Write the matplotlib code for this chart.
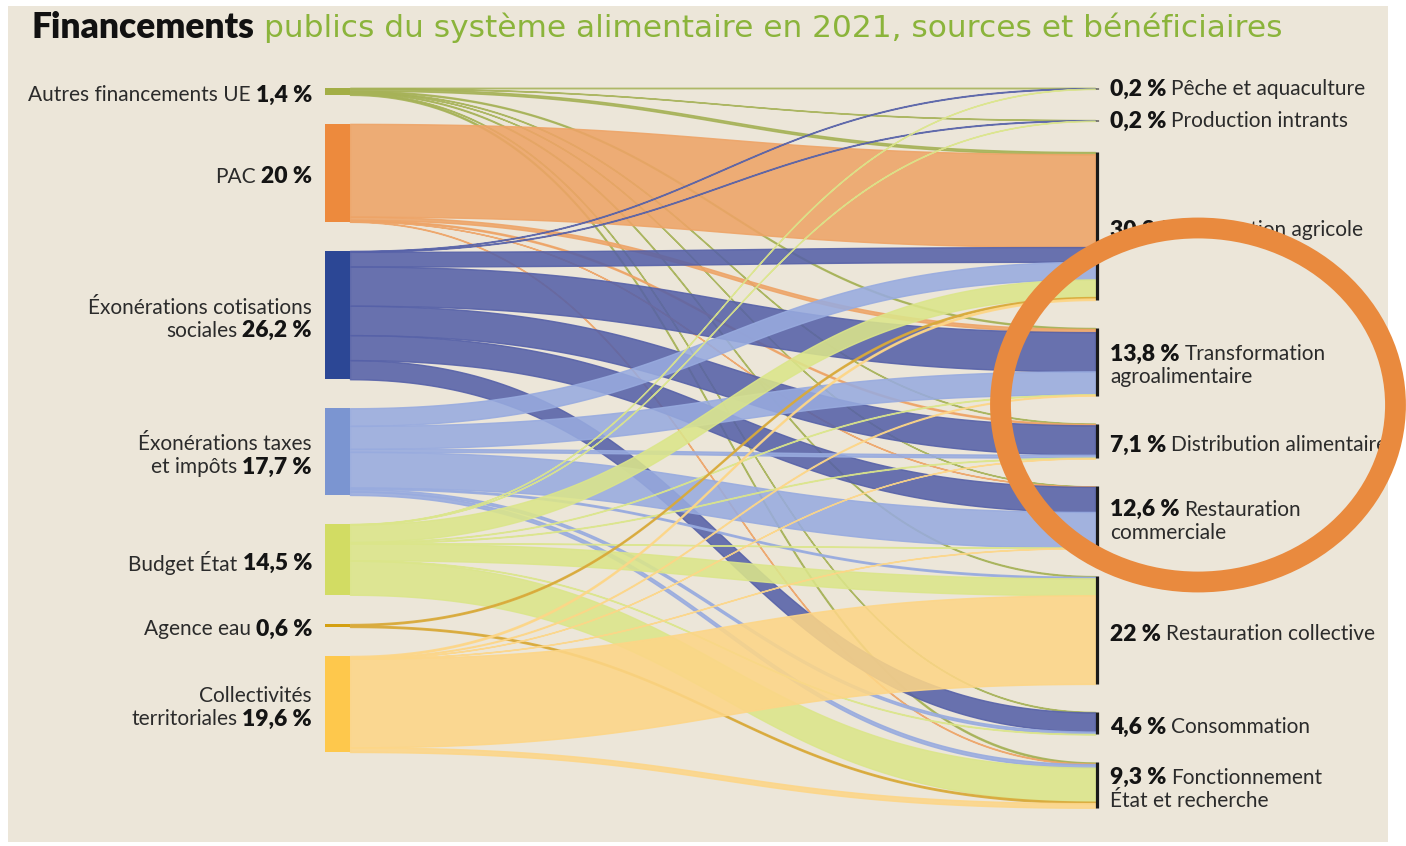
import numpy as np
import matplotlib
matplotlib.use("Agg")
import matplotlib.pyplot as plt
from matplotlib.patches import Rectangle, Ellipse

# Sources (left) and beneficiaries (right), shares of total public funding in %
sources = ["Autres financements UE", "PAC", "Éxonérations cotisations\nsociales",
           "Éxonérations taxes\net impôts", "Budget État", "Agence eau",
           "Collectivités\nterritoriales"]
source_values = [1.4, 20, 26.2, 17.7, 14.5, 0.6, 19.6]

targets = ["Pêche et aquaculture", "Production intrants", "Production agricole",
           "Transformation\nagroalimentaire", "Distribution alimentaire",
           "Restauration\ncommerciale", "Restauration collective", "Consommation",
           "Fonctionnement\nÉtat et recherche"]
target_values = [0.2, 0.2, 30.2, 13.8, 7.1, 12.6, 22, 4.6, 9.3]

# flow of each source towards each beneficiary (same order as targets)
flows_ue = [0.05, 0.05, 0.45, 0.2, 0.1, 0.05, 0.15, 0.1, 0.25]
flows_pac = [0, 0, 18.95, 0.65, 0.25, 0.05, 0, 0, 0.1]
flows_cotisations = [0.1, 0.1, 3.0, 8.0, 6.0, 5.1, 0, 3.9, 0]
flows_taxes = [0, 0, 3.6, 4.7, 0.6, 7.3, 0.3, 0.5, 0.7]
flows_budget = [0.05, 0.05, 3.6, 0.1, 0.1, 0.05, 3.45, 0.1, 6.95]
flows_eau = [0, 0, 0.3, 0, 0, 0, 0, 0, 0.3]
flows_collectivites = [0, 0, 0.3, 0.15, 0.05, 0.05, 18.1, 0, 0.95]
flows = [flows_ue, flows_pac, flows_cotisations, flows_taxes, flows_budget,
         flows_eau, flows_collectivites]

node_colors = ["#a3ae45", "#ed8a3d", "#2c4795", "#7b95d1", "#d2dc63", "#d4a012", "#fec84c"]
flow_colors = ["#a6b257", "#eea467", "#5661a8", "#98abdf", "#dbe58a", "#d9aa3a", "#fdd687"]

W, H = 1406, 846
SCALE = 4.9      # px per %
TOP = 88
XL0, XL1 = 325, 350
XR = 1097

BG = "#ece6d9"
TXT = "#2b2b2b"
FONT = "Lato"


def pct(v):
    return f"{v:g}".replace(".", ",") + " %"


fig = plt.figure(figsize=(W / 100, H / 100), dpi=100)
fig.patch.set_facecolor("white")
ax = fig.add_axes([0, 0, 1, 1])
ax.set_xlim(0, W)
ax.set_ylim(H, 0)
ax.axis("off")
ax.add_patch(Rectangle((8, 6), 1380, 836, facecolor=BG, edgecolor="none", zorder=0))
renderer = fig.canvas.get_renderer()


def node_tops(values, gap, min_h=0.0):
    tops, y = [], TOP
    for v in values:
        tops.append(y)
        y += max(v * SCALE, min_h) + gap
    return tops


src_top = node_tops(source_values, 29)
tgt_top = node_tops(target_values, 28, min_h=4)

# flows, stacked in target order at the source and in source order at the target
tt = np.linspace(0, 1, 120)
xm = (XL1 + XR - 2) / 2
xs = XL1 * (1 - tt) ** 3 + 3 * xm * (1 - tt) ** 2 * tt + 3 * xm * (1 - tt) * tt ** 2 + (XR - 2) * tt ** 3
ws = (1 - tt) ** 3 + 3 * (1 - tt) ** 2 * tt

tgt_offsets = {}
for t in range(len(targets)):
    off = 0.0
    for s in range(len(sources)):
        tgt_offsets[(s, t)] = off
        off += flows[s][t] * SCALE

for s in range(len(sources)):
    off = 0.0
    for t in range(len(targets)):
        v = flows[s][t]
        if v <= 0:
            continue
        h = v * SCALE
        y0 = src_top[s] + off
        y1 = tgt_top[t] + tgt_offsets[(s, t)]
        top = y0 * ws + y1 * (1 - ws)
        ax.fill_between(xs, top, top + h, facecolor=flow_colors[s],
                        edgecolor=flow_colors[s], linewidth=1.0, alpha=0.88, zorder=2 + s * 0.1)
        off += h

# source nodes
for s, v in enumerate(source_values):
    ax.add_patch(Rectangle((XL0, src_top[s]), XL1 - XL0, v * SCALE,
                           facecolor=node_colors[s], edgecolor="none", zorder=4))

# beneficiary nodes: black bars
for t, v in enumerate(target_values):
    ax.plot([XR, XR], [tgt_top[t], tgt_top[t] + max(v * SCALE, 1.5)],
            color="#1a1a1a", lw=2.3, solid_capstyle="butt", zorder=4)


def width(txt):
    return txt.get_window_extent(renderer=renderer).width


FS = 15
FSB = 16.5
LINE = 23

# source labels, right aligned
for s, name in enumerate(sources):
    lines = name.split("\n")
    cy = src_top[s] + source_values[s] * SCALE / 2 + 4
    y = cy - LINE * (len(lines) - 1) / 2
    for i, line in enumerate(lines):
        yy = y + i * LINE
        if i == len(lines) - 1:
            b = ax.text(312, yy, pct(source_values[s]), ha="right", va="center",
                        fontsize=FSB, fontweight="heavy", color="#141414", family=FONT, zorder=5)
            ax.text(312 - width(b) - 5, yy, line, ha="right", va="center",
                    fontsize=FS, color=TXT, family=FONT, zorder=5)
        else:
            ax.text(312, yy, line, ha="right", va="center",
                    fontsize=FS, color=TXT, family=FONT, zorder=5)

# beneficiary labels, left aligned
for t, name in enumerate(targets):
    lines = name.split("\n")
    cy = tgt_top[t] + target_values[t] * SCALE / 2 + 4
    if target_values[t] < 1:
        cy = tgt_top[t] + 1
    y = cy - LINE * (len(lines) - 1) / 2
    for i, line in enumerate(lines):
        yy = y + i * LINE
        if i == 0:
            b = ax.text(1110, yy, pct(target_values[t]), ha="left", va="center",
                        fontsize=FSB, fontweight="heavy", color="#141414", family=FONT, zorder=5)
            ax.text(1110 + width(b) + 5, yy, line, ha="left", va="center",
                    fontsize=FS, color=TXT, family=FONT, zorder=5)
        else:
            ax.text(1110, yy, line, ha="left", va="center",
                    fontsize=FS, color=TXT, family=FONT, zorder=5)

# title
t1 = ax.text(32, 28, "Financements", ha="left", va="center", fontsize=25.5,
             fontweight="heavy", color="#111111", family=FONT)
ax.text(32 + width(t1) + 9, 28, "publics du système alimentaire en 2021, sources et bénéficiaires",
        ha="left", va="center", fontsize=22.5, color="#8bb43b", family="DejaVu Sans")

# highlight ring
ax.add_patch(Ellipse((1198, 405), 395, 354, fill=False, edgecolor="#e98a3e",
                     linewidth=15, zorder=10, clip_on=False))

fig.savefig("out.png", dpi=100, facecolor="white")
